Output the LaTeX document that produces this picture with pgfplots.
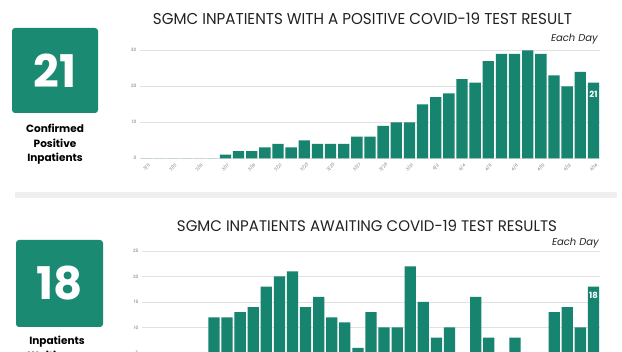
\documentclass[border=0pt]{standalone}
\usepackage{fontspec}
\setmainfont{Poppins}
\usepackage{graphicx}
\usepackage{pgfplots}
\pgfplotsset{compat=1.18}
\definecolor{barg}{HTML}{17846F}
\definecolor{boxg}{HTML}{1A8A73}
\definecolor{gridc}{HTML}{E2E2E2}
\definecolor{sepc}{HTML}{EFEFEF}
\definecolor{titc}{HTML}{222222}
\definecolor{tickc}{HTML}{777777}

\pgfplotstableread{
x y
0 0
1 0
2 0
3 0
4 0
5 0
6 1
7 2
8 2
9 3
10 4
11 3
12 5
13 4
14 4
15 4
16 6
17 6
18 9
19 10
20 10
21 15
22 17
23 18
24 22
25 21
26 27
27 29
28 29
29 30
30 29
31 23
32 20
33 24
34 21
}\positive

\pgfplotstableread{
x y
0 0
1 0
2 0
3 0
4 0
5 12
6 12
7 13
8 14
9 18
10 20
11 21
12 14
13 16
14 12
15 11
16 6
17 13
18 10
19 10
20 22
21 15
22 8
23 10
24 4
25 16
26 8
27 4
28 8
29 3
30 2
31 13
32 14
33 10
34 18
}\awaiting

\newcommand{\rl}[1]{\rotatebox{45}{#1}}

\pgfplotsset{
  panel/.style={
    scale only axis, anchor=south west,
    xmin=-0.5, xmax=34.5, ymin=0, enlargelimits=false,
    ybar, bar width=11.3pt,
    axis line style={draw=none}, major tick length=0pt,
    ymajorgrids, grid style={gridc, line width=0.5pt},
    /pgf/number format/assume math mode=true,
    tick label style={text=tickc},
    yticklabel style={font=\fontsize{4.5}{5}\selectfont},
  },
}

\begin{document}
\begin{tikzpicture}[x=1pt,y=1pt]
\useasboundingbox (0,0) rectangle (622,352);
\clip (0,0) rectangle (622,352);
\fill[white] (0,0) rectangle (622,352);

% ---------- top panel ----------
\fill[boxg, rounded corners=3pt] (12,239) rectangle (98,324);
\node[white, font=\bfseries\fontsize{45}{45}\selectfont] at (55,281.5) {21};
\node[anchor=base, font=\bfseries\fontsize{10.5}{11}\selectfont] at (55,219) {Confirmed};
\node[anchor=base, font=\bfseries\fontsize{10.5}{11}\selectfont] at (55,204.5) {Positive};
\node[anchor=base, font=\bfseries\fontsize{10.5}{11}\selectfont] at (55,190) {Inpatients};

\node[text=titc, inner sep=0pt] at (362.5,333.5) {\resizebox{419pt}{11.6pt}{SGMC INPATIENTS WITH A POSITIVE COVID-19 TEST RESULT}};
\node[anchor=east, text=titc, inner sep=0pt, font=\itshape\fontsize{10}{10}\selectfont] at (598,313) {Each Day};

\begin{axis}[panel, at={(140pt,193.7pt)}, width=460pt, height=108pt,
  ymax=30, ytick={0,10,20,30},
  xtick={0,2,...,34},
  xticklabels={\rl{3/11},\rl{3/13},\rl{3/15},\rl{3/17},\rl{3/19},\rl{3/21},\rl{3/23},\rl{3/25},\rl{3/27},\rl{3/29},\rl{3/31},\rl{4/2},\rl{4/4},\rl{4/6},\rl{4/8},\rl{4/10},\rl{4/12},\rl{4/14}},
  xticklabel style={font=\fontsize{4.2}{4.2}\selectfont, anchor=center, yshift=-9pt},
]
\addplot[fill=barg, draw=none, bar shift=0pt] table[x=x,y=y] {\positive};
\addplot[draw=none, fill=none, bar shift=0pt, nodes near coords,
  nodes near coords style={anchor=north, yshift=-4.5pt, text=white, font=\bfseries\fontsize{8.5}{8.5}\selectfont}]
  coordinates {(34,21)};
\end{axis}

% separator
\fill[sepc] (15,154) rectangle (617,160);

% ---------- bottom panel ----------
\fill[boxg, rounded corners=3pt] (16,25) rectangle (103,112);
\node[white, font=\bfseries\fontsize{45}{45}\selectfont] at (59.5,68.5) {18};
\node[anchor=base, font=\bfseries\fontsize{10.5}{11}\selectfont] at (57,7) {Inpatients};
\node[anchor=base, font=\bfseries\fontsize{10.5}{11}\selectfont] at (57,-7.5) {Waiting on};

\node[text=titc, inner sep=0pt] at (367,126.5) {\resizebox{380pt}{11.3pt}{SGMC INPATIENTS AWAITING COVID-19 TEST RESULTS}};
\node[anchor=east, text=titc, inner sep=0pt, font=\itshape\fontsize{10}{10}\selectfont] at (599,109) {Each Day};

\begin{axis}[panel, at={(142pt,-26.5pt)}, width=458pt, height=127.5pt,
  ymax=25, ytick={0,5,...,25}, xtick=\empty,
]
\addplot[fill=barg, draw=none, bar shift=0pt] table[x=x,y=y] {\awaiting};
\addplot[draw=none, fill=none, bar shift=0pt, nodes near coords,
  nodes near coords style={anchor=north, yshift=-1.5pt, text=white, font=\bfseries\fontsize{8.5}{8.5}\selectfont}]
  coordinates {(34,18)};
\end{axis}
\end{tikzpicture}
\end{document}
